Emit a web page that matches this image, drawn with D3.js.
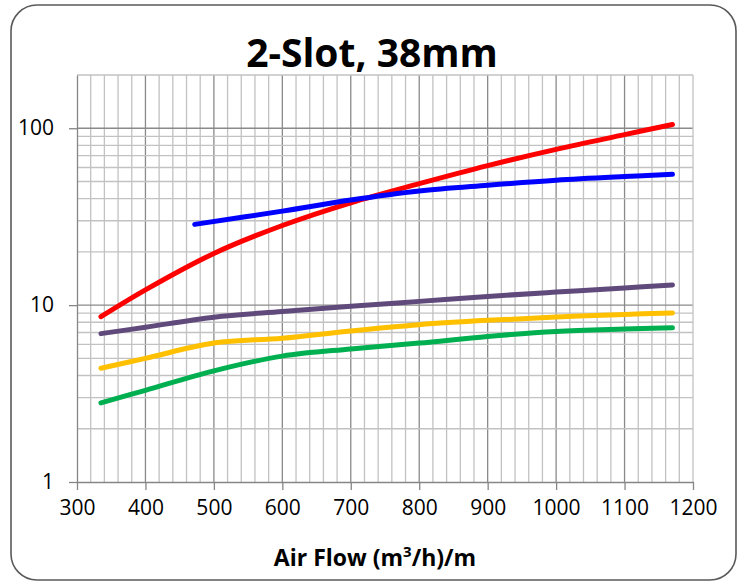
<!DOCTYPE html>
<html>
<head>
<meta charset="utf-8">
<script src="https://cdn.jsdelivr.net/npm/d3@7"></script>
<style>
  body { margin: 0; background: #fff; }
  svg { display: block; font-family: 'Open Sans', sans-serif; }
  .grid-minor { stroke: #c2c2c2; stroke-width: 1.3; }
  .grid-major { stroke: #8a8a8a; stroke-width: 1.3; }
  .tick-label { font-size: 21px; fill: #000; }
  .series { fill: none; stroke-width: 5; stroke-linecap: round; stroke-linejoin: round; }
</style>
</head>
<body>
<svg class="chart"></svg>
<script>
// Air flow (m3/h)/m
const airFlow = [335, 400, 500, 600, 700, 800, 900, 1000, 1100, 1170]
const airFlowBlue = [472, 600, 700, 800, 900, 1000, 1100, 1170]

const redValues    = [8.6, 12.2, 19.6, 28.2, 37.9, 48.6, 61.5, 76.0, 92.0, 105]
const blueValues   = [28.6, 34.0, 39.3, 44.2, 47.6, 50.8, 53.3, 54.9]
const purpleValues = [6.9, 7.5, 8.55, 9.2, 9.85, 10.5, 11.2, 11.85, 12.5, 13.0]
const yellowValues = [4.4, 5.0, 6.1, 6.5, 7.15, 7.75, 8.2, 8.56, 8.86, 9.02]
const greenValues  = [2.8, 3.3, 4.25, 5.15, 5.65, 6.1, 6.65, 7.1, 7.32, 7.44]

const xTicks = [300, 400, 500, 600, 700, 800, 900, 1000, 1100, 1200]
const yTicks = [1, 10, 100]

const series = [
    { name: 'red', color: '#ff0000', x: airFlow, y: redValues },
    { name: 'blue', color: '#0000ff', x: airFlowBlue, y: blueValues },
    { name: 'purple', color: '#604a7b', x: airFlow, y: purpleValues },
    { name: 'yellow', color: '#ffc000', x: airFlow, y: yellowValues },
    { name: 'green', color: '#00b050', x: airFlow, y: greenValues }
]

const width = 744
const height = 583

const padding = {
    top: 75,
    right: 51,
    bottom: 101,
    left: 77
}

const svg = d3.select('.chart')
    .attr('width', width)
    .attr('height', height)

// outer rounded frame
svg.append('rect')
    .attr('x', 11)
    .attr('y', 5)
    .attr('width', 725)
    .attr('height', 575)
    .attr('rx', 26)
    .attr('fill', '#fff')
    .attr('stroke', '#595959')
    .attr('stroke-width', 1.6)

const xScale = d3.scaleLinear()
    .domain([300, 1200])
    .range([padding.left, width - padding.right])

const yScale = d3.scaleLog()
    .domain([1, 200])
    .range([height - padding.bottom, padding.top])

const [x0, x1] = xScale.range()
const [yBottom, yTop] = yScale.range()

// vertical grid, every 20 with darker line every 100
const xGrid = d3.range(320, 1200, 20)
svg.selectAll('.vgrid')
    .data(xGrid)
    .enter()
    .append('line')
    .attr('class', d => d % 100 === 0 ? 'grid-major' : 'grid-minor')
    .attr('x1', d => xScale(d))
    .attr('x2', d => xScale(d))
    .attr('y1', yTop)
    .attr('y2', yBottom)

// horizontal grid at log minor steps
const yGrid = []
;[1, 10, 100].forEach(dec => {
    d3.range(1, 10).forEach(m => {
        const v = dec * m
        if (v > 1 && v < 200) yGrid.push(v)
    })
})

svg.selectAll('.hgrid')
    .data(yGrid)
    .enter()
    .append('line')
    .attr('class', d => yTicks.includes(d) ? 'grid-major' : 'grid-minor')
    .attr('x1', x0)
    .attr('x2', x1)
    .attr('y1', d => yScale(d))
    .attr('y2', d => yScale(d))

// top and right border of plot
svg.append('line')
    .attr('class', 'grid-minor')
    .attr('x1', x0).attr('x2', x1)
    .attr('y1', yTop).attr('y2', yTop)
svg.append('line')
    .attr('class', 'grid-minor')
    .attr('x1', x1).attr('x2', x1)
    .attr('y1', yTop).attr('y2', yBottom)

// axes
const xAxis = d3.axisBottom(xScale)
    .tickValues(xTicks)
    .tickSize(8)
    .tickSizeOuter(0)
    .tickPadding(10)
    .tickFormat(d3.format('d'))

const yAxis = d3.axisLeft(yScale)
    .tickValues(yTicks)
    .tickSize(8)
    .tickSizeOuter(0)
    .tickPadding(15)
    .tickFormat(d3.format('d'))

const gx = svg.append('g')
    .attr('transform', `translate(0, ${yBottom})`)
    .call(xAxis)

const gy = svg.append('g')
    .attr('transform', `translate(${x0}, 0)`)
    .call(yAxis)

;[gx, gy].forEach(g => {
    g.select('.domain').attr('stroke', '#868686').attr('stroke-width', 1.3)
    g.selectAll('.tick line').attr('stroke', '#868686').attr('stroke-width', 1.3)
    g.selectAll('.tick text')
        .attr('class', 'tick-label')
        .attr('fill', '#000')
        .style('font-family', "'Open Sans', sans-serif")
        .style('font-size', '21px')
})

// series lines
const line = d3.line()
    .x(d => xScale(d[0]))
    .y(d => yScale(d[1]))
    .curve(d3.curveCatmullRom.alpha(0.5))

svg.selectAll('.series')
    .data(series)
    .enter()
    .append('path')
    .attr('class', 'series')
    .attr('stroke', d => d.color)
    .attr('d', d => line(d.x.map((v, i) => [v, d.y[i]])))

// title
svg.append('text')
    .attr('x', 372)
    .attr('y', 67)
    .attr('text-anchor', 'middle')
    .style('font-size', '39px')
    .style('font-weight', 'bold')
    .text('2-Slot, 38mm')

// x axis title
const xt = svg.append('text')
    .attr('x', 375)
    .attr('y', 566)
    .attr('text-anchor', 'middle')
    .style('font-size', '23px')
    .style('font-weight', 'bold')

xt.append('tspan').text('Air Flow (m')
xt.append('tspan').attr('dy', -9).style('font-size', '15px').text('3')
xt.append('tspan').attr('dy', 9).text('/h)/m')
</script>
</body>
</html>
